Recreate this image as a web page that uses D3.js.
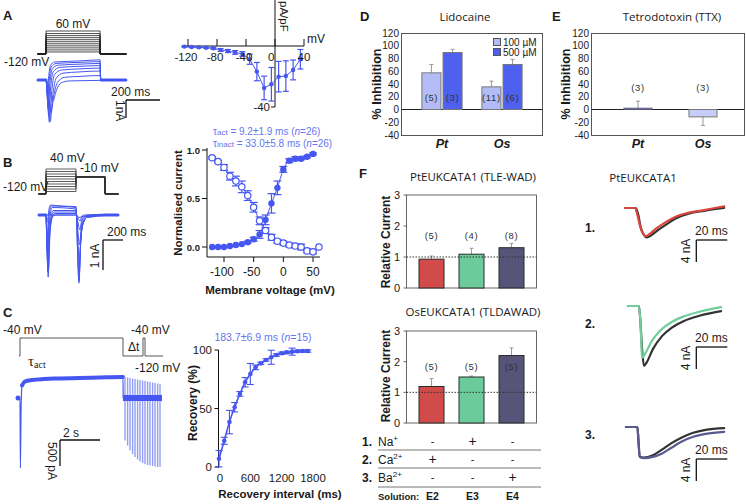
<!DOCTYPE html>
<html>
<head>
<meta charset="utf-8">
<script src="https://cdn.jsdelivr.net/npm/d3@7/dist/d3.min.js"></script>
<style>
html,body{margin:0;padding:0;background:#fff;}
svg{display:block;}
</style>
</head>
<body>
<svg id="fig" width="746" height="504"></svg>
<script>
// ======================= DATA =======================
// Panel A – voltage protocol levels (mV) and event times (ms)
const stepLevelsA = [-104,-88,-72,-56,-40,-24,-8,8,24,40,60];
const protoTimesA = [-47, 0, 318, 470];
// Panel A – current family (time ms, current nA)
const tracesA = [
  [[-47,0],[0,0],[20,-0.5],[40,-1.2],[60,-0.6],[90,-0.15],[140,-0.05],[318,-0.02],[325,0],[470,0]],
  [[-47,0],[0,0],[15,-0.8],[30,-1.8],[45,-0.9],[70,-0.1],[110,0.15],[200,0.2],[318,0.25],[322,0],[470,0]],
  [[-47,0],[0,0],[12,-1.0],[25,-2.3],[38,-1.0],[60,0.1],[100,0.38],[200,0.45],[318,0.5],[322,0],[470,0]],
  [[-47,0],[0,0],[10,-1.1],[20,-2.35],[32,-0.8],[50,0.3],[90,0.55],[200,0.62],[318,0.66],[322,0],[470,0]],
  [[-47,0],[0,0],[8,-0.9],[16,-2.0],[26,-0.6],[42,0.45],[80,0.7],[200,0.76],[318,0.8],[322,0],[470,0]],
  [[-47,0],[0,0],[6,-0.7],[13,-1.6],[22,-0.3],[36,0.6],[70,0.82],[200,0.88],[318,0.92],[322,0],[470,0]],
  [[-47,0],[0,0],[5,-0.5],[10,-1.2],[18,-0.1],[30,0.7],[60,0.92],[200,0.98],[318,1.02],[322,0],[470,0]],
  [[-47,0],[0,0],[4,-0.3],[8,-0.8],[15,0.1],[26,0.8],[50,1.0],[200,1.06],[318,1.12],[322,0],[470,0]]
];
// Panel A – I/V relation
const ivVoltage = [-125,-115,-105,-95,-85,-75,-65,-55,-45,-35,-25,-15,-5,5,15,25,35];
const ivDensity = [-0.4,-0.7,-0.9,-1.1,-1.5,-2.6,-3.3,-4.2,-5.2,-8.7,-16.8,-27.5,-25.1,-20.1,-19.7,-15.7,-8.7];
const ivError   = [0.3,0.3,0.3,0.4,0.6,0.9,1.0,1.2,1.5,3.3,6.0,7.7,11,10,10,6.5,6.4];
const ivXTicks  = [-120,-80,-40,0,40];

// Panel B – protocol
const stepLevelsB = [-104,-88,-72,-56,-40,-24,-8,8,24,40];
const protoTimesB = [-70, 0, 300, 590, 720];
// Panel B – current family (ms, nA)
const tracesB = [
  [[-70,0],[0,0],[300,0],[305,0],[315,-1.2],[330,-2.27],[345,-1.0],[370,-0.3],[420,-0.05],[590,0],[720,0]],
  [[-70,0],[0,0],[15,-0.15],[30,-0.3],[50,-0.1],[100,0],[300,0],[305,0],[315,-1.1],[330,-2.2],[345,-0.95],[370,-0.3],[420,-0.05],[590,0],[720,0]],
  [[-70,0],[0,0],[12,-0.5],[28,-1.0],[45,-0.3],[90,0.05],[300,0.05],[305,0],[315,-1.0],[332,-2.0],[348,-0.85],[372,-0.25],[420,-0.05],[590,0],[720,0]],
  [[-70,0],[0,0],[10,-0.9],[25,-1.8],[42,-0.5],[80,0.1],[300,0.1],[305,0],[318,-0.8],[335,-1.6],[350,-0.7],[375,-0.2],[420,-0.05],[590,0],[720,0]],
  [[-70,0],[0,0],[9,-1.0],[22,-2.07],[38,-0.5],[70,0.15],[300,0.15],[305,0],[318,-0.5],[336,-1.0],[352,-0.4],[378,-0.1],[420,0],[590,0],[720,0]],
  [[-70,0],[0,0],[8,-0.9],[20,-1.9],[34,-0.3],[60,0.25],[300,0.2],[305,0],[320,-0.25],[338,-0.5],[355,-0.2],[380,-0.05],[590,0],[720,0]],
  [[-70,0],[0,0],[7,-0.8],[18,-1.6],[30,-0.1],[50,0.3],[300,0.25],[305,0],[322,-0.1],[340,-0.2],[360,-0.05],[590,0],[720,0]],
  [[-70,0],[0,0],[6,-0.6],[16,-1.2],[26,0.1],[45,0.33],[150,0.3],[300,0.28],[305,0],[340,-0.08],[380,0],[590,0],[720,0]]
];
// Panel B – activation / inactivation
const actVoltage   = [-120,-110,-100,-90,-80,-70,-60,-50,-40,-30,-20,-10,0,10,20,30,40,50];
const actValue     = [0.0,0.0,0.0,0.01,0.02,0.03,0.05,0.08,0.13,0.28,0.45,0.61,0.80,0.89,0.91,0.91,0.93,0.96];
const actError     = [0,0,0,0,0,0,0.01,0.02,0.04,0.05,0.10,0.07,0.03,0.02,0.02,0.01,0.01,0.01];
const inactVoltage = [-120,-110,-100,-90,-80,-70,-60,-50,-40,-30,-20,-10,0,10,20,30,40,50,60];
const inactValue   = [0.92,0.88,0.82,0.73,0.68,0.62,0.53,0.41,0.27,0.17,0.10,0.06,0.04,0.02,0.01,0.0,-0.04,-0.05,0.0];
const inactError   = [0.01,0.01,0.03,0.04,0.05,0.06,0.05,0.05,0.04,0.03,0.03,0.02,0.02,0.02,0.02,0.03,0.02,0.02,0];
const bXTicks = [-100,-50,0,50];
const bYTicks = [0,0.5,1];

// Panel C – protocol (s, mV)
const protoTimesC = [-0.05,0,0,5.15,5.15,6.15,6.15,6.25,6.25,7.15];
const protoVoltC  = [-120,-120,-40,-40,-120,-120,-40,-40,-120,-120];
// Panel C – long trace (s, pA)
const mainTraceC = [[-0.1,0],[0,0],[0.02,-1400],[0.05,-300],[0.1,250],[0.25,330],[0.6,360],[1.2,380],[2,390],[3,400],[4,410],[5.1,420],[5.15,420],[5.16,0]];
const spikeTimesC = [5.25,5.38,5.5,5.63,5.75,5.88,6.0,6.13,6.25,6.38,6.5,6.63,6.75,6.88,7.0];
const spikeDownC  = [-850,-950,-1050,-1120,-1180,-1230,-1270,-1300,-1320,-1340,-1350,-1360,-1370,-1380,-1380];
const spikeUpC    = [420,410,400,390,380,370,360,350,340,330,320,310,300,290,280];
// Panel C – recovery
const recInterval = [0,100,200,300,400,500,600,700,800,900,1000,1100,1200,1300,1400,1500,1600,1700];
const recValue    = [7.1,22.4,38.4,51.1,62.5,72.4,79.5,85.2,88.6,91.5,93.8,95.7,97.2,98.0,98.6,98.9,99.1,99.1];
const recError    = [7,3,10,4,2,4,9,2,1,1,6,1,1,1,3,1,1,1];
const cXTicks = [0,600,1200,1800];
const cYTicks = [0,50,100];

// Panel D / E
const drugGroups = ["Pt","Os"];
const inhibTicks = [-40,-20,0,20,40,60,80,100,120];
const lido100 = [57.5,35.5], lido100Err = [13,9],  lido100N = ["(5)","(11)"];
const lido500 = [89.4,70.6], lido500Err = [5,8],   lido500N = ["(3)","(6)"];
const ttxValue = [2,-11.6],  ttxErr = [11,-13.4],  ttxN = ["(3)","(3)"];

// Panel F
const solutionNames = ["E2","E3","E4"];
const ptRelCurrent = [0.93,1.09,1.30], ptRelErr = [0.10,0.19,0.14], ptN = ["(5)","(4)","(8)"];
const osRelCurrent = [1.19,1.50,2.20], osRelErr = [0.26,0.03,0.25], osN = ["(5)","(5)","(5)"];
const relTicks = [0,1,2,3];
const ionNames = ["Na","Ca","Ba"], ionCharges = ["+","2+","2+"];
const ionPresence = [["-","+","-"],["+","-","-"],["-","-","+"]];
const solColors = ["#d14b4b","#6bcb9b","#575479"];

// Right – PtEUKCATA1 example traces (ms, nA)
const ex1Black = [[0,0],[7,0],[8.5,-1.1],[10,-3.2],[12,-4.6],[14,-5.1],[16,-4.9],[21,-3.9],[27,-2.8],[33,-1.8],[41,-1.0],[51,-0.5],[64,0.0]];
const ex1Color = [[0,0],[6.5,0],[8,-1.2],[10,-3.4],[12,-4.6],[13.5,-4.9],[15,-4.7],[20,-3.6],[26,-2.5],[32,-1.6],[40,-0.9],[50,-0.4],[64,0.3]];
const ex2Black = [[2,0],[9,0],[10,-3],[11,-7.5],[12.3,-10.4],[14,-9.8],[18,-7.5],[24,-5.2],[30,-3.8],[38,-2.6],[48,-1.7],[62,-0.9]];
const ex2Color = [[2,0],[9,0],[10,-3],[10.6,-7],[11,-9.0],[13,-8.3],[17,-6.2],[23,-4.2],[30,-2.8],[38,-1.8],[48,-1.0],[62,-0.2]];
const ex3Black = [[0.6,0],[8,0],[8.6,-2],[9.5,-5.2],[12,-5.3],[18,-4.9],[24,-3.9],[30,-2.8],[36,-1.9],[44,-1.0],[52,-0.5],[64,-0.2]];
const ex3Color = [[0.6,0],[8,0],[8.6,-2],[9.5,-5.2],[12,-5.4],[18,-5.2],[24,-4.6],[30,-3.6],[36,-2.6],[44,-1.7],[52,-1.2],[64,-0.85]];

// ======================= DRAWING =======================
const svg = d3.select("#fig");
svg.append("rect").attr("width",746).attr("height",504).attr("fill","#fff");
const ARIAL = "'Liberation Sans', Arial, Helvetica, sans-serif";
const CALIBRI = "'Open Sans', 'Noto Sans', sans-serif";
const BLUE = "#4556f1", BLUE_T = "#6676f2", BLUE_L = "#939df6";

function label(x, y, str, o = {}) {
  const t = svg.append("text")
    .attr("font-family", o.family || ARIAL)
    .attr("font-size", o.size || 12)
    .attr("text-anchor", o.anchor || "start")
    .attr("fill", o.fill || "#1a1a1a");
  if (o.weight) t.attr("font-weight", o.weight);
  if (o.italic) t.attr("font-style", "italic");
  if (o.ls) t.attr("letter-spacing", o.ls);
  if (o.rot !== undefined) t.attr("transform", `translate(${x},${y}) rotate(${o.rot})`);
  else t.attr("x", x).attr("y", y);
  if (str != null) t.text(str);
  return t;
}
function line(x1, y1, x2, y2, stroke = "#1a1a1a", w = 1, dash) {
  const l = svg.append("line").attr("x1",x1).attr("y1",y1).attr("x2",x2).attr("y2",y2)
    .attr("stroke",stroke).attr("stroke-width",w);
  if (dash) l.attr("stroke-dasharray", dash);
  return l;
}
function errorBars(xs, ys, es, xS, yS, color, cap, w) {
  xs.forEach((xv, i) => {
    const e = es[i]; if (!e) return;
    const x = xS(xv), y1 = yS(ys[i] - e), y2 = yS(ys[i] + e);
    line(x, y1, x, y2, color, w);
    line(x - cap/2, y1, x + cap/2, y1, color, w);
    line(x - cap/2, y2, x + cap/2, y2, color, w);
  });
}
function path(d, stroke, w, fill = "none") {
  return svg.append("path").attr("d", d).attr("fill", fill).attr("stroke", stroke).attr("stroke-width", w)
    .attr("stroke-linejoin","round").attr("stroke-linecap","round");
}

// Panel letters
label(3,20,"A",{size:13,weight:"bold"});
label(3,167,"B",{size:13,weight:"bold"});
label(3,317,"C",{size:13,weight:"bold"});
label(360,21,"D",{size:13,weight:"bold"});
label(552,21,"E",{size:13,weight:"bold"});
label(359,178,"F",{size:13,weight:"bold"});

// ---------- Panel A ----------
const tA = d3.scaleLinear().domain([0,200]).range([46,80]);
const vA = d3.scaleLinear().domain([-120,60]).range([54,31]);
const iA = d3.scaleLinear().domain([0,-1]).range([80,98]);
stepLevelsA.forEach(lv => {
  const p = d3.path();
  p.moveTo(tA(protoTimesA[0]), vA(-120)); p.lineTo(tA(protoTimesA[1]), vA(-120));
  p.lineTo(tA(protoTimesA[1]), vA(lv)); p.lineTo(tA(protoTimesA[2]), vA(lv));
  p.lineTo(tA(protoTimesA[2]), vA(-120)); p.lineTo(tA(protoTimesA[3]), vA(-120));
  path(p.toString(), "#222", 0.8);
});
label(73,28,"60 mV",{anchor:"middle"});
label(4,66,"-120 mV");
const lineA = d3.line().x(d => tA(d[0])).y(d => iA(d[1])).curve(d3.curveMonotoneX);
path(lineA(tracesA[0].filter(d => d[0] <= 0)), BLUE, 3);
path(lineA(tracesA[0].filter(d => d[0] >= 325)), BLUE, 3);
tracesA.forEach(tr => path(lineA(tr), BLUE, 1));
// scale bar
line(126,100,160,100,"#111",1.3); line(126,100,126,118,"#111",1.3);
label(111,96,"200 ms");
label(116,100,"1nA",{rot:90});

// I/V
const xIV = d3.scaleLinear().domain([-120,40]).range([188,304]);
const yIV = d3.scaleLinear().domain([0,-40]).range([46,107]);
line(182,46,304,46,"#111",1);
line(xIV(0),0,xIV(0),yIV(-40),"#111",1);
line(xIV(0)-4,yIV(-40),xIV(0),yIV(-40),"#111",1);
errorBars(ivVoltage, ivDensity, ivError, xIV, yIV, BLUE, 6, 1.2);
path(d3.line().x((d,i)=>xIV(ivVoltage[i])).y(d=>yIV(d))(ivDensity), BLUE, 1);
ivVoltage.forEach((v,i) => svg.append("circle").attr("cx",xIV(v)).attr("cy",yIV(ivDensity[i])).attr("r",2.2).attr("fill",BLUE));
ivXTicks.forEach(v => {
  line(xIV(v),39,xIV(v),46,"#111",1);
  if (v === 0) label(xIV(v)-0.5,61,"0",{anchor:"end",size:11.5});
  else label(xIV(v)+(v<0?-2:0),61,String(v),{anchor:"middle",size:11.5});
});
label(270,111,"-40",{anchor:"end",size:11.5});
label(307,43,"mV",{size:12});
label(280,1,"pA/pF",{rot:90,size:11.5});

// ---------- Panel B ----------
const tB = d3.scaleLinear().domain([0,100]).range([46,56]);
const vB = d3.scaleLinear().domain([-120,40]).range([194,169]);
const iB = d3.scaleLinear().domain([0,-1]).range([215,245]);
stepLevelsB.forEach(lv => {
  const p = d3.path();
  p.moveTo(tB(protoTimesB[0]), vB(-120)); p.lineTo(tB(protoTimesB[1]), vB(-120));
  p.lineTo(tB(protoTimesB[1]), vB(lv)); p.lineTo(tB(protoTimesB[2]), vB(lv));
  p.lineTo(tB(protoTimesB[2]), vB(-10)); p.lineTo(tB(protoTimesB[3]), vB(-10));
  p.lineTo(tB(protoTimesB[3]), vB(-120)); p.lineTo(tB(protoTimesB[4]), vB(-120));
  path(p.toString(), "#333", 0.8);
});
label(50,162,"40 mV");
label(80,172,"-10 mV");
label(3,191,"-120 mV");
const lineB = d3.line().x(d => tB(d[0])).y(d => iB(d[1])).curve(d3.curveMonotoneX);
path(lineB(tracesB[0].filter(d => d[0] <= 0)), BLUE, 3);
path(lineB(tracesB[0].filter(d => d[0] >= 420)), BLUE, 3);
tracesB.forEach(tr => path(lineB(tr), BLUE, 1));
line(103,240,123,240,"#111",1.3); line(103,240,103,270,"#111",1.3);
label(107,236,"200 ms");
label(99,256,"1 nA",{rot:-90,anchor:"middle"});

const xB = d3.scaleLinear().domain([-100,50]).range([224,313]);
const yB = d3.scaleLinear().domain([0,1]).range([247,150]);
line(207,148,207,257,"#111",1); line(207,257,320,257,"#111",1);
bYTicks.forEach(v => { line(202,yB(v),207,yB(v),"#111",1); label(200,yB(v)+3.5,d3.format(".1f")(v),{anchor:"end",size:9.5,weight:"bold"}); });
bXTicks.forEach(v => { line(xB(v),257,xB(v),262,"#111",1); label(xB(v)+(v<0?-2:0),276,String(v),{anchor:"middle",size:12}); });
label(182,203,"Normalised current",{rot:-90,anchor:"middle",size:11.5,weight:"bold"});
label(270,294,"Membrane voltage (mV)",{anchor:"middle",size:11.5,weight:"bold"});
const t1 = label(213,135,null,{size:10,fill:BLUE_T});
t1.append("tspan").text("τ");
t1.append("tspan").attr("font-size",8).text("act");
t1.append("tspan").text(" = 9.2±1.9 ms (");
t1.append("tspan").attr("font-style","italic").text("n");
t1.append("tspan").text("=26)");
const t2 = label(213,147,null,{size:10,fill:BLUE_T});
t2.append("tspan").text("τ");
t2.append("tspan").attr("font-size",8).text("inact");
t2.append("tspan").text(" = 33.0±5.8 ms (");
t2.append("tspan").attr("font-style","italic").text("n");
t2.append("tspan").text("=26)");
errorBars(actVoltage, actValue, actError, xB, yB, BLUE, 8, 1.2);
errorBars(inactVoltage, inactValue, inactError, xB, yB, BLUE, 8, 1.2);
const smooth = d3.line().curve(d3.curveMonotoneX);
path(smooth(actVoltage.map((v,i)=>[xB(v),yB(actValue[i])])), BLUE, 1);
path(smooth(inactVoltage.map((v,i)=>[xB(v),yB(inactValue[i])])), BLUE, 1);
inactVoltage.forEach((v,i) => svg.append("circle").attr("cx",xB(v)).attr("cy",yB(inactValue[i])).attr("r",3.2).attr("fill","#fff").attr("stroke",BLUE).attr("stroke-width",1.2));
actVoltage.forEach((v,i) => svg.append("circle").attr("cx",xB(v)).attr("cy",yB(actValue[i])).attr("r",3.2).attr("fill",BLUE));

// ---------- Panel C ----------
const tC = d3.scaleLinear().domain([0,2]).range([20,60]);
const vC = d3.scaleLinear().domain([-120,-40]).range([356,338]);
const iC = d3.scaleLinear().domain([0,500]).range([398,373]);
path(d3.line()(protoTimesC.map((t,i)=>[tC(t),vC(protoVoltC[i])])), "#444", 0.9).attr("stroke-linejoin","miter").attr("stroke-linecap","butt");
label(3,334,"-40 mV");
label(131,334,"-40 mV");
label(128,351,"Δt");
label(135,372,"-120 mV");
const tau = label(28,366,null,{family:"'Liberation Serif', 'DejaVu Serif', serif",size:15});
tau.append("tspan").text("τ");
tau.append("tspan").attr("font-size",10).attr("dy",2).text("act");
const lineC = d3.line().x(d=>tC(d[0])).y(d=>iC(d[1])).curve(d3.curveMonotoneX);
path(lineC(mainTraceC), BLUE, 1.2);
path(lineC(mainTraceC.filter(d => d[0] >= 0.1 && d[0] <= 5.15)), BLUE, 4);
svg.append("circle").attr("cx",tC(mainTraceC[0][0])).attr("cy",iC(mainTraceC[0][1])).attr("r",2.5).attr("fill",BLUE);
spikeTimesC.forEach((t,i) => line(tC(t), iC(spikeUpC[i]), tC(t), iC(spikeDownC[i]), BLUE_L, 1.4));
line(tC(5.15), iC(0), tC(7.1), iC(0), BLUE, 6);
line(60,440,100,440,"#111",1.3); line(60,440,60,466,"#111",1.3);
label(63,437,"2 s");
label(48,442,"500 pA",{rot:90});

const xC = d3.scaleLinear().domain([0,1800]).range([219,313]);
const yC = d3.scaleLinear().domain([0,100]).range([467,350]);
line(218.5,350,218.5,468,"#111",1);
cYTicks.forEach(v => { line(214.5,yC(v),218.5,yC(v),"#111",1); label(212,yC(v)+4,String(v),{anchor:"end",size:11.5}); });
cXTicks.forEach(v => label(xC(v)+(v===0?1:0),482,String(v),{anchor:"middle",size:11.5}));
label(197,403,"Recovery (%)",{rot:-90,anchor:"middle",size:12,weight:"bold"});
label(280,498,"Recovery interval (ms)",{anchor:"middle",size:11.5,weight:"bold"});
const tr3 = label(263,341,null,{anchor:"middle",size:10.5,fill:BLUE_T});
tr3.append("tspan").text("183.7±6.9 ms (");
tr3.append("tspan").attr("font-style","italic").text("n");
tr3.append("tspan").text("=15)");
errorBars(recInterval, recValue, recError, xC, yC, BLUE, 7, 1.1);
path(smooth(recInterval.map((v,i)=>[xC(v),yC(recValue[i])])), BLUE, 1.6);
recInterval.forEach((v,i) => svg.append("circle").attr("cx",xC(v)).attr("cy",yC(recValue[i])).attr("r",2.3).attr("fill",BLUE));

// ---------- Panel D ----------
const yD = d3.scaleLinear().domain([-40,120]).range([135,33]);
const LIGHT = "#b3bcf6", DARK = "#4d60ee";
function inhibFrame(x0, w, ylabX, title, titleX) {
  svg.append("rect").attr("x",x0+0.5).attr("y",33.5).attr("width",w).attr("height",102).attr("fill","none").attr("stroke","#555");
  inhibTicks.forEach(t => label(x0-2, yD(t)+3.5, String(t), {anchor:"end",size:10}));
  line(x0+0.5, yD(0), x0+w+0.5, yD(0), "#222", 1);
  label(ylabX, 84, "% Inhibition", {rot:-90,anchor:"middle",size:12.5,weight:"bold"});
  label(titleX, 21, title, {anchor:"middle",family:CALIBRI,size:11.5});
}
inhibFrame(401, 141, 381, "Lidocaine", 465);
const xD = d3.scaleBand().domain(drugGroups).range([412,532]).paddingInner(0.33).paddingOuter(0.165);
const xDsub = d3.scaleBand().domain(["100","500"]).range([0, xD.bandwidth()]).paddingInner(0.1);
function bar(x, w, v, fill, stroke) {
  svg.append("rect").attr("x",x).attr("y",Math.min(yD(v),yD(0))).attr("width",w)
    .attr("height",Math.abs(yD(0)-yD(v))).attr("fill",fill).attr("stroke",stroke).attr("stroke-width",1);
}
function capErr(xc, yTop, yEnd, color, cap) {
  line(xc, yTop, xc, yEnd, color, 1);
  line(xc-cap/2, yEnd, xc+cap/2, yEnd, color, 1);
}
drugGroups.forEach((g,i) => {
  [["100",lido100,lido100Err,lido100N,LIGHT],["500",lido500,lido500Err,lido500N,DARK]].forEach(([k,vals,errs,ns,col]) => {
    const x = xD(g)+xDsub(k), w = xDsub.bandwidth(), xc = x + w/2;
    capErr(xc, yD(vals[i]), yD(vals[i]+errs[i]), "#999", 4);
    bar(x, w, vals[i], col, "#777");
    label(xc, 101, ns[i], {anchor:"middle",size:9.5,fill:"#333",ls:0.6});
  });
  label(xD(g)+xD.bandwidth()/2, 148, g, {anchor:"middle",size:12.5,weight:"bold",italic:true});
});
svg.append("rect").attr("x",493.5).attr("y",38.5).attr("width",7).attr("height",7).attr("fill",LIGHT).attr("stroke","#555");
svg.append("rect").attr("x",493.5).attr("y",48.5).attr("width",7).attr("height",7).attr("fill",DARK).attr("stroke","#555");
label(503,45.5,"100 µM",{size:10});
label(503,55.5,"500 µM",{size:10});

// ---------- Panel E ----------
inhibFrame(591, 153, 570, "Tetrodotoxin (TTX)", 672);
const xE = d3.scaleBand().domain(drugGroups).range([605.5,735.5]).paddingInner(0.569).paddingOuter(0.2845);
drugGroups.forEach((g,i) => {
  const x = xE(g), w = xE.bandwidth(), xc = x + w/2;
  capErr(xc, yD(ttxValue[i]), yD(ttxValue[i]+ttxErr[i]), "#999", 4);
  bar(x, w, ttxValue[i], i===0 ? "#9aa3e6" : "#c6cdf8", i===0 ? "#55547a" : "#777");
  label(xc, 91, ttxN[i], {anchor:"middle",size:9.5,fill:"#333",ls:0.6});
  label(xc, 148, g, {anchor:"middle",size:12.5,weight:"bold",italic:true});
});

// ---------- Panel F ----------
const xF = d3.scaleBand().domain(solutionNames).range([411.5,531.5]).paddingInner(0.375).paddingOuter(0.1875);
function relPanel(yS, vals, errs, ns, nY, title, titleY, ylabY) {
  const [y0, y3] = yS.range();
  svg.append("rect").attr("x",406.5).attr("y",y3).attr("width",130).attr("height",y0-y3).attr("fill","none").attr("stroke","#666");
  relTicks.forEach(t => { label(400, yS(t)+4, String(t), {anchor:"end",size:11}); line(403.5,yS(t),406.5,yS(t),"#666",1); });
  solutionNames.forEach((s,i) => {
    const x = xF(s), w = xF.bandwidth(), xc = x + w/2;
    capErr(xc, yS(vals[i]), yS(vals[i]+errs[i]), "#999", 4);
    svg.append("rect").attr("x",x).attr("y",yS(vals[i])).attr("width",w).attr("height",yS(0)-yS(vals[i]))
      .attr("fill",solColors[i]).attr("stroke","#2a2a2a").attr("stroke-width",1);
    label(xc, nY, ns[i], {anchor:"middle",size:9.5,fill:"#333",ls:0.6});
  });
  line(406.5, yS(1), 536.5, yS(1), "#333", 1, "1.5,1.5");
  label(473, titleY, title, {anchor:"middle",family:CALIBRI,size:11.5});
  label(390, ylabY, "Relative Current", {rot:-90,anchor:"middle",size:12,weight:"bold"});
}
relPanel(d3.scaleLinear().domain([0,3]).range([288,195]), ptRelCurrent, ptRelErr, ptN, 239, "PtEUKCATA1 (TLE-WAD)", 181, 242);
relPanel(d3.scaleLinear().domain([0,3]).range([423,331]), osRelCurrent, osRelErr, osN, 370, "OsEUKCATA1 (TLDAWAD)", 316, 376);
const rowY = [446,464,482], ruleY = [450,468,487];
ionNames.forEach((ion,r) => {
  label(362, rowY[r], (r+1)+".", {size:12,weight:"bold"});
  const t = label(378, rowY[r], null, {size:12});
  t.append("tspan").text(ion);
  t.append("tspan").attr("font-size",8).attr("dy",-5).text(ionCharges[r]);
  solutionNames.forEach((s,c) => label(xF(s)+xF.bandwidth()/2+1, rowY[r]-(ionPresence[r][c]==="+"?0:1), ionPresence[r][c], {anchor:"middle",size:ionPresence[r][c]==="+"?14:11}));
  line(378, ruleY[r], 541, ruleY[r], "#777", 1);
});
label(378, 500, "Solution:", {size:9.5,weight:"bold"});
solutionNames.forEach(s => label(xF(s)+xF.bandwidth()/2+1, 500, s, {anchor:"middle",size:10.5,weight:"bold"}));

// ---------- Right example traces ----------
label(643, 182, "PtEUKCATA1", {anchor:"middle",family:CALIBRI,size:11.5});
const tR = d3.scaleLinear().domain([0,20]).range([625,656]);
const examples = [
  {black:ex1Black, col:ex1Color, color:"#d9463f", base:208, num:"1.", numY:232, barY:240},
  {black:ex2Black, col:ex2Color, color:"#6ecf9c", base:306, num:"2.", numY:328, barY:347},
  {black:ex3Black, col:ex3Color, color:"#5b5990", base:427, num:"3.", numY:439, barY:459}
];
examples.forEach(ex => {
  const iR = d3.scaleLinear().domain([0,-4]).range([ex.base, ex.base+23]);
  const lr = d3.line().x(d=>tR(d[0])).y(d=>iR(d[1])).curve(d3.curveMonotoneX);
  path(lr(ex.black), "#333", 2.2);
  path(lr(ex.col), ex.color, 2.2);
  label(585, ex.numY, ex.num, {size:12,weight:"bold"});
  line(tR(46), ex.barY, tR(66), ex.barY, "#111", 1.3);
  line(tR(46), ex.barY, tR(46), ex.barY+22, "#111", 1.3);
  label(695, ex.barY-5, "20 ms", {size:12});
  label(690, ex.barY+11, "4 nA", {rot:-90,anchor:"middle",size:12});
});
</script>
</body>
</html>
